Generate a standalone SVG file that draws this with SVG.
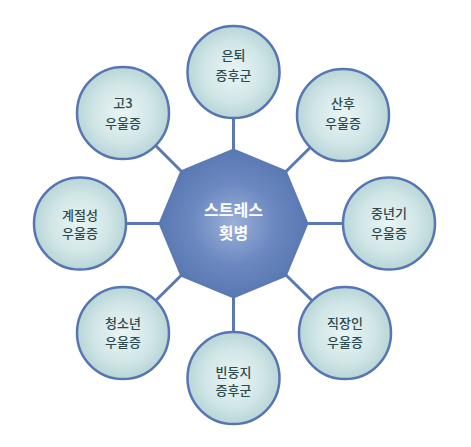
<svg xmlns="http://www.w3.org/2000/svg" width="471" height="447" viewBox="0 0 471 447">
<defs>
<radialGradient id="cg" cx="50%" cy="50%" r="50%">
<stop offset="0" stop-color="#eaf4f4"/>
<stop offset="0.6" stop-color="#d3e7e8"/>
<stop offset="1" stop-color="#b9d6d8"/>
</radialGradient>
<radialGradient id="og" cx="50%" cy="50%" r="50%">
<stop offset="0" stop-color="#9bb1da"/>
<stop offset="0.55" stop-color="#6c88c0"/>
<stop offset="1" stop-color="#5877b1"/>
</radialGradient>
<style>
.c{fill:url(#cg);stroke:#5675b2;stroke-width:2.5}
.t{font-family:"Noto Sans CJK KR","Noto Sans",sans-serif;font-size:13px;font-weight:500;fill:#2d4a4c;text-anchor:middle}
.ct{font-family:"Noto Sans CJK KR","Noto Sans",sans-serif;font-size:16px;font-weight:700;fill:#ffffff;text-anchor:middle}
.l{stroke:#5a79b4;stroke-width:3;fill:none}
</style>
</defs>
<rect width="471" height="447" fill="#ffffff"/>
<g id="connectors">
<line class="l" x1="233.5" y1="223.5" x2="233.5" y2="72"/>
<line class="l" x1="233.5" y1="223.5" x2="343" y2="115"/>
<line class="l" x1="233.5" y1="223.5" x2="389" y2="223.5"/>
<line class="l" x1="233.5" y1="223.5" x2="345" y2="333"/>
<line class="l" x1="233.5" y1="223.5" x2="233.5" y2="378"/>
<line class="l" x1="233.5" y1="223.5" x2="123" y2="333"/>
<line class="l" x1="233.5" y1="223.5" x2="80" y2="223.5"/>
<line class="l" x1="233.5" y1="223.5" x2="123" y2="113"/>
</g>
<g id="center">
<polygon points="233.5,148.5 286.5,170.5 308.5,223.5 286.5,276.5 233.5,298.5 180.5,276.5 158.5,223.5 180.5,170.5" fill="url(#og)"/>
<text class="ct" x="233.5" y="216">스트레스</text>
<text class="ct" x="233.5" y="239">횟병</text>
</g>
<g id="n-top">
<circle class="c" cx="233.5" cy="72" r="46"/>
<text class="t" x="233.5" y="60">은퇴</text>
<text class="t" x="233.5" y="80">증후군</text>
</g>
<g id="n-topright">
<circle class="c" cx="343" cy="115" r="46"/>
<text class="t" x="343" y="108">산후</text>
<text class="t" x="343" y="128">우울증</text>
</g>
<g id="n-right">
<circle class="c" cx="389" cy="223.5" r="46"/>
<text class="t" x="389" y="218">중년기</text>
<text class="t" x="389" y="238">우울증</text>
</g>
<g id="n-bottomright">
<circle class="c" cx="345" cy="333" r="46"/>
<text class="t" x="345" y="328">직장인</text>
<text class="t" x="345" y="347">우울증</text>
</g>
<g id="n-bottom">
<circle class="c" cx="233.5" cy="378" r="46"/>
<text class="t" x="233.5" y="377">빈둥지</text>
<text class="t" x="233.5" y="395">증후군</text>
</g>
<g id="n-bottomleft">
<circle class="c" cx="123" cy="333" r="46"/>
<text class="t" x="123" y="328">청소년</text>
<text class="t" x="123" y="347">우울증</text>
</g>
<g id="n-left">
<circle class="c" cx="80" cy="223.5" r="46"/>
<text class="t" x="80" y="220">계절성</text>
<text class="t" x="80" y="238">우울증</text>
</g>
<g id="n-topleft">
<circle class="c" cx="123" cy="113" r="46"/>
<text class="t" x="123" y="108">고3</text>
<text class="t" x="123" y="128">우울증</text>
</g>
</svg>
